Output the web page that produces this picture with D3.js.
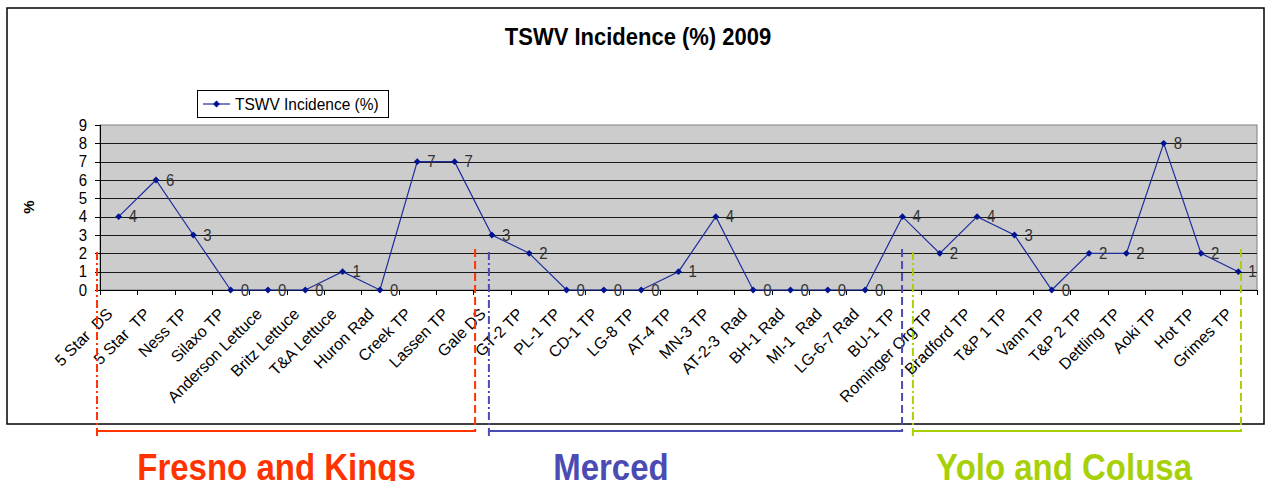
<!DOCTYPE html>
<html>
<head>
<meta charset="utf-8">
<script src="https://cdn.jsdelivr.net/npm/d3@7"></script>
<style>
body { margin: 0; background: #fff; }
text { font-family: "Liberation Sans", Arial, sans-serif; }
</style>
</head>
<body>
<svg id="chart" width="1266" height="481"></svg>
<script>
var categories = ["5 Star  DS", "5 Star  TP", "Ness TP", "Silaxo TP", "Anderson Lettuce", "Britz Lettuce",
    "T&A Lettuce", "Huron Rad", "Creek TP", "Lassen TP", "Gale DS", "GT-2 TP", "PL-1 TP", "CD-1 TP",
    "LG-8 TP", "AT-4 TP", "MN-3 TP", "AT-2-3  Rad", "BH-1 Rad", "MI-1  Rad", "LG-6-7 Rad", "BU-1 TP",
    "Rominger Org TP", "Bradford TP", "T&P 1 TP", "Vann TP", "T&P 2 TP", "Dettling TP", "Aoki TP",
    "Hot TP", "Grimes TP"];
var incidence = [4, 6, 3, 0, 0, 0, 1, 0, 7, 7, 3, 2, 0, 0, 0, 1, 4, 0, 0, 0, 0, 4, 2, 4, 3, 0, 2, 2, 8, 2, 1];
var yTicks = [0, 1, 2, 3, 4, 5, 6, 7, 8, 9];

// county groups, spans given in category-index units
var regionNames = ["Fresno and Kings", "Merced", "Yolo and Colusa"];
var regionStart = [-0.58, 9.92, 21.28];
var regionEnd = [9.55, 20.99, 30.07];
var regionLabelAt = [4.23, 13.19, 25.33];
var regionColors = ["#ff3300", "#4b4bb4", "#a8d008"];

var svg = d3.select('#chart');
var plot = { left: 100, right: 1257, top: 125, bottom: 290 };
var stretch = 1.12;

var x = d3.scaleBand().domain(categories).range([plot.left, plot.right]);
var xi = d3.scaleLinear().domain([-0.5, categories.length - 0.5]).range([plot.left, plot.right]);
var y = d3.scaleLinear().domain([0, 9]).range([plot.bottom, plot.top]);
var cx = function(c) { return x(c) + x.bandwidth() / 2; };

// horizontal text helper, glyphs in the picture are a bit taller than wide
var hText = function(g, tx, ty, str) {
    return g.append('text')
        .attr('transform', 'translate(' + tx + ',' + ty + ') scale(1,' + stretch + ')')
        .text(str);
};

/* outer frame */
svg.append('rect')
    .attr('x', 7).attr('y', 8)
    .attr('width', 1257).attr('height', 416)
    .attr('fill', '#fff')
    .attr('stroke', '#000')
    .attr('stroke-width', 1.5);

hText(svg, 638, 45, 'TSWV Incidence (%) 2009')
    .attr('text-anchor', 'middle')
    .attr('font-weight', 'bold')
    .attr('font-size', 22);

/* plot area */
svg.append('rect')
    .attr('x', plot.left).attr('y', plot.top)
    .attr('width', plot.right - plot.left).attr('height', plot.bottom - plot.top)
    .attr('fill', '#cccccc')
    .attr('stroke', '#808080')
    .attr('stroke-width', 1);

svg.append('g')
    .selectAll('line')
    .data(yTicks.filter(function(t) { return t > 0 && t < 9; }))
    .enter().append('line')
    .attr('x1', plot.left).attr('x2', plot.right)
    .attr('y1', function(d) { return Math.round(y(d)) + 0.5; })
    .attr('y2', function(d) { return Math.round(y(d)) + 0.5; })
    .attr('stroke', '#1a1a1a')
    .attr('stroke-width', 1);

/* y axis */
var yAxis = svg.append('g');
yAxis.append('line')
    .attr('x1', plot.left + 0.5).attr('x2', plot.left + 0.5)
    .attr('y1', plot.top).attr('y2', plot.bottom)
    .attr('stroke', '#000');
yAxis.selectAll('line.tick')
    .data(yTicks)
    .enter().append('line')
    .attr('class', 'tick')
    .attr('x1', plot.left - 5).attr('x2', plot.left)
    .attr('y1', function(d) { return Math.round(y(d)) + 0.5; })
    .attr('y2', function(d) { return Math.round(y(d)) + 0.5; })
    .attr('stroke', '#000');
yAxis.selectAll('text.tick')
    .data(yTicks)
    .enter().append('text')
    .attr('class', 'tick')
    .attr('transform', function(d) { return 'translate(87,' + (y(d) + 5.5) + ') scale(1,' + stretch + ')'; })
    .attr('text-anchor', 'end')
    .attr('font-size', 15)
    .text(function(d) { return d; });

svg.append('text')
    .attr('transform', 'translate(34,207) rotate(-90)')
    .attr('text-anchor', 'middle')
    .attr('font-weight', 'bold')
    .attr('font-size', 15)
    .text('%');

/* x axis */
var xAxis = svg.append('g');
xAxis.append('line')
    .attr('x1', plot.left).attr('x2', plot.right)
    .attr('y1', plot.bottom + 0.5).attr('y2', plot.bottom + 0.5)
    .attr('stroke', '#000');
xAxis.selectAll('line.tick')
    .data(d3.range(categories.length + 1))
    .enter().append('line')
    .attr('class', 'tick')
    .attr('x1', function(i) { return Math.round(xi(i - 0.5)) + 0.5; })
    .attr('x2', function(i) { return Math.round(xi(i - 0.5)) + 0.5; })
    .attr('y1', plot.bottom).attr('y2', plot.bottom + 5)
    .attr('stroke', '#000');
xAxis.selectAll('text')
    .data(categories)
    .enter().append('text')
    .attr('transform', function(d) { return 'translate(' + (cx(d) - 9) + ',311) rotate(-45)'; })
    .attr('text-anchor', 'end')
    .attr('dy', '0.35em')
    .attr('font-size', 16)
    .style('white-space', 'pre')
    .text(function(d) { return d; });

/* series */
var line = d3.line()
    .x(function(d, i) { return cx(categories[i]); })
    .y(function(d) { return y(d); });

svg.append('path')
    .datum(incidence)
    .attr('d', line)
    .attr('fill', 'none')
    .attr('stroke', '#1d2c9e')
    .attr('stroke-width', 1.2);

var diamond = d3.symbol().type(d3.symbolDiamond2).size(30);

svg.append('g')
    .selectAll('path')
    .data(incidence)
    .enter().append('path')
    .attr('d', diamond)
    .attr('transform', function(d, i) { return 'translate(' + cx(categories[i]) + ',' + y(d) + ')'; })
    .attr('fill', '#001390');

svg.append('g')
    .selectAll('text')
    .data(incidence)
    .enter().append('text')
    .attr('transform', function(d, i) {
        return 'translate(' + (cx(categories[i]) + 10) + ',' + (y(d) + 5.5) + ') scale(1,' + stretch + ')';
    })
    .attr('font-size', 15)
    .attr('fill', '#333')
    .text(function(d) { return d; });

/* legend */
var legend = svg.append('g');
legend.append('rect')
    .attr('x', 197.5).attr('y', 90.5)
    .attr('width', 191).attr('height', 27)
    .attr('fill', '#fff')
    .attr('stroke', '#000');
legend.append('line')
    .attr('x1', 203).attr('x2', 230)
    .attr('y1', 104).attr('y2', 104)
    .attr('stroke', '#1d2c9e')
    .attr('stroke-width', 1.2);
legend.append('path')
    .attr('d', diamond)
    .attr('transform', 'translate(216.5,104)')
    .attr('fill', '#001390');
hText(legend, 235, 109.5, 'TSWV Incidence (%)')
    .attr('font-size', 15.5);

/* county brackets */
var brackets = svg.append('g');
regionNames.forEach(function(name, k) {
    var xl = xi(regionStart[k]), xr = xi(regionEnd[k]);
    var col = regionColors[k];
    brackets.append('line')
        .attr('x1', xl).attr('x2', xl)
        .attr('y1', 252).attr('y2', 436)
        .attr('stroke', col).attr('stroke-width', 2)
        .attr('stroke-dasharray', '8,3,2,3');
    brackets.append('line')
        .attr('x1', xr).attr('x2', xr)
        .attr('y1', 249).attr('y2', 431)
        .attr('stroke', col).attr('stroke-width', 2)
        .attr('stroke-dasharray', '8,4');
    brackets.append('line')
        .attr('x1', xl).attr('x2', xr + 1)
        .attr('y1', 431).attr('y2', 431)
        .attr('stroke', col).attr('stroke-width', 2.2);
    hText(brackets, xi(regionLabelAt[k]), 480, name)
        .attr('text-anchor', 'middle')
        .attr('font-weight', 'bold')
        .attr('font-size', 33)
        .attr('fill', col);
});
</script>
</body>
</html>
